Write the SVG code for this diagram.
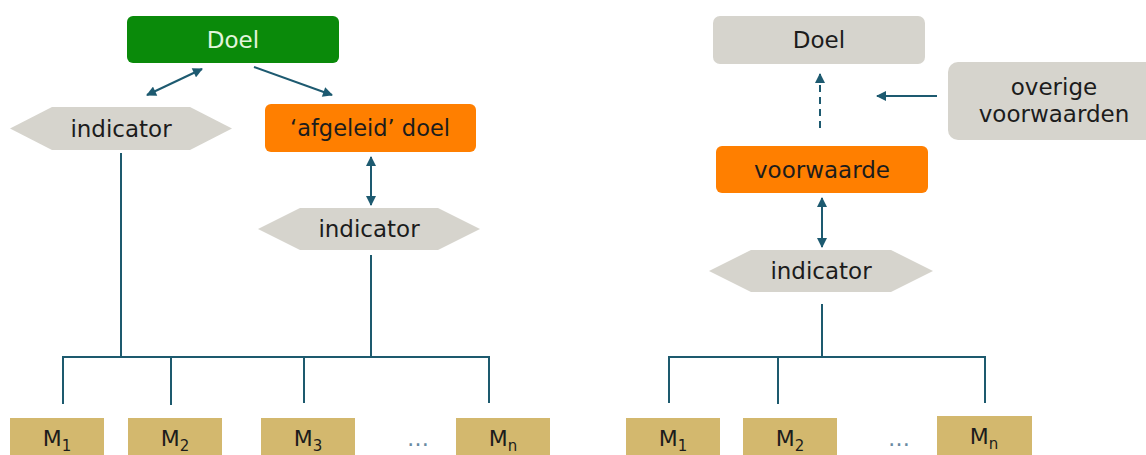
<svg xmlns="http://www.w3.org/2000/svg" width="1146" height="455" viewBox="0 0 1146 455">
<defs>
<style>
text{font-family:"DejaVu Sans","Liberation Sans",sans-serif;font-size:23px;fill:#1c1c1c;text-anchor:middle}
.gray{fill:#d6d4cd}
.orange{fill:#ff7f00}
.green{fill:#0a8a0a}
.m{fill:#d3b86e}
.line{stroke:#1d5a6e;stroke-width:2;fill:none}
.arrow{stroke:#1d5a70;stroke-width:2;fill:none}
.mt{font-size:22px}
.sub{font-size:15px}
.dots{fill:#6a8aa2;font-size:22px}
</style>
<marker id="ah" viewBox="0 0 10 10" refX="9" refY="5" markerWidth="11" markerHeight="10" markerUnits="userSpaceOnUse" orient="auto-start-reverse">
<path d="M0,0 L10,5 L0,10 Z" fill="#1d5a70"/>
</marker>
</defs>

<g id="connectors">
<line class="arrow" x1="147" y1="95" x2="202" y2="69" marker-start="url(#ah)" marker-end="url(#ah)"/>
<line class="arrow" x1="254" y1="67" x2="332" y2="95" marker-end="url(#ah)"/>
<line class="arrow" x1="371" y1="157" x2="371" y2="205" marker-start="url(#ah)" marker-end="url(#ah)"/>
<polyline class="line" points="121,153 121,357"/>
<polyline class="line" points="371,255 371,357"/>
<polyline class="line" points="63,404 63,357 489,357 489,403"/>
<line class="line" x1="171" y1="357" x2="171" y2="405"/>
<line class="line" x1="304" y1="357" x2="304" y2="403"/>
<line class="arrow" x1="820" y1="128" x2="820" y2="74" stroke-dasharray="7,5" marker-end="url(#ah)"/>
<line class="arrow" x1="937" y1="96" x2="877" y2="96" marker-end="url(#ah)"/>
<line class="arrow" x1="822" y1="198" x2="822" y2="247" marker-start="url(#ah)" marker-end="url(#ah)"/>
<polyline class="line" points="822,304 822,357"/>
<polyline class="line" points="669,403 669,357 985,357 985,403"/>
<line class="line" x1="778" y1="357" x2="778" y2="404"/>
</g>

<g id="doel-left">
<rect class="green" x="127" y="16" width="212" height="47" rx="6"/>
<text x="233" y="48" style="fill:#e2f5dc">Doel</text>
</g>
<g id="indicator-left-1">
<polygon class="gray" points="10,128.5 52,107 190,107 232,128.5 190,150 52,150"/>
<text x="121" y="137">indicator</text>
</g>
<g id="afgeleid-doel">
<rect class="orange" x="265" y="104" width="211" height="48" rx="6"/>
<text x="370" y="136" textLength="160" lengthAdjust="spacingAndGlyphs">‘afgeleid’ doel</text>
</g>
<g id="indicator-left-2">
<polygon class="gray" points="258,229 300,208 438,208 480,229 438,250 300,250"/>
<text x="369" y="237">indicator</text>
</g>

<g id="m1-left"><rect class="m" x="10" y="418" width="94" height="40"/><text class="mt" x="57" y="446">M<tspan class="sub" dy="5">1</tspan></text></g>
<g id="m2-left"><rect class="m" x="128" y="418" width="94" height="40"/><text class="mt" x="175" y="446">M<tspan class="sub" dy="5">2</tspan></text></g>
<g id="m3-left"><rect class="m" x="261" y="418" width="94" height="40"/><text class="mt" x="308" y="446">M<tspan class="sub" dy="5">3</tspan></text></g>
<g id="dots-left"><text class="dots" x="418" y="446">…</text></g>
<g id="mn-left"><rect class="m" x="456" y="418" width="94" height="40"/><text class="mt" x="503" y="446">M<tspan class="sub" dy="5">n</tspan></text></g>

<g id="doel-right">
<rect class="gray" x="713" y="16" width="212" height="48" rx="7"/>
<text x="819" y="48">Doel</text>
</g>
<g id="overige-voorwaarden">
<rect class="gray" x="948" y="62" width="210" height="78" rx="10"/>
<text x="1054" y="95">overige</text>
<text x="1054" y="122">voorwaarden</text>
</g>
<g id="voorwaarde">
<rect class="orange" x="716" y="146" width="212" height="47" rx="6"/>
<text x="822" y="178">voorwaarde</text>
</g>
<g id="indicator-right">
<polygon class="gray" points="709,271 751,250 891,250 933,271 891,292 751,292"/>
<text x="821" y="279">indicator</text>
</g>

<g id="m1-right"><rect class="m" x="626" y="418" width="94" height="40"/><text class="mt" x="673" y="446">M<tspan class="sub" dy="5">1</tspan></text></g>
<g id="m2-right"><rect class="m" x="743" y="418" width="94" height="40"/><text class="mt" x="790" y="446">M<tspan class="sub" dy="5">2</tspan></text></g>
<g id="dots-right"><text class="dots" x="899" y="446">…</text></g>
<g id="mn-right"><rect class="m" x="937" y="416" width="95" height="42"/><text class="mt" x="984" y="444">M<tspan class="sub" dy="5">n</tspan></text></g>
</svg>
